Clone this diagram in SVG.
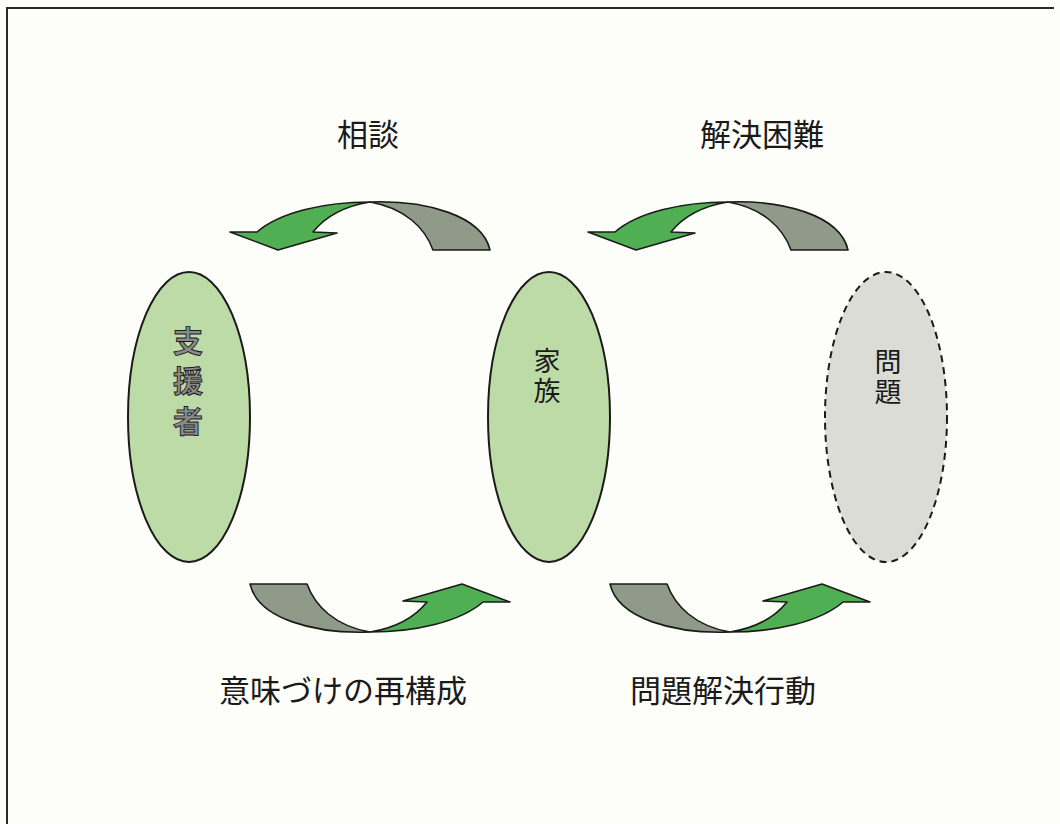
<svg xmlns="http://www.w3.org/2000/svg" width="1060" height="824" viewBox="0 0 1060 824">
<style>
.lbl{font-family:"Noto Sans CJK JP","Noto Sans",sans-serif;font-size:31px;fill:#1a1a1a;text-anchor:middle}
.vt{font-family:"Noto Sans CJK JP","Noto Sans",sans-serif;font-size:27px;fill:#1a1a1a;text-anchor:middle;writing-mode:vertical-rl;letter-spacing:3px}
.emb{font-size:30px;font-weight:bold;letter-spacing:10px;fill:#8a8a8a;stroke:#1a1a1a;stroke-width:0.9}
.node{fill:#bddba6;stroke:#1a1a1a;stroke-width:2}
.prob{fill:#dcdcd6;stroke:#1a1a1a;stroke-width:2;stroke-dasharray:7 5}
.green{fill:#50af52;stroke:#1a1a1a;stroke-width:1.6;stroke-linejoin:round}
.gray{fill:#8f9a88;stroke:#1a1a1a;stroke-width:1.6;stroke-linejoin:round}
</style>
<defs>
<g id="arr">
<path class="gray" d="M370,202 C425,200 482,215 490,250 L433,250 C425,228 405,208 370,202 Z"/>
<path class="green" d="M370,202 C325,202 280,212 257,232 L230,232 L278,250 L337,233 L313,232 C325,217 345,206 370,202 Z"/>
</g>
</defs>
<rect x="0" y="0" width="1060" height="824" fill="#fdfdf9"/>
<path d="M7,830 L7,8 L1054,8" fill="none" stroke="#2a2a2a" stroke-width="2"/>
<g id="connectors">
<use href="#arr"/>
<use href="#arr" transform="translate(358,0)"/>
<use href="#arr" transform="rotate(180 370 417)"/>
<use href="#arr" transform="translate(360,0) rotate(180 370 417)"/>
</g>
<g id="node-shienja">
<ellipse class="node" cx="189" cy="417" rx="61" ry="145"/>
<text class="vt emb" x="188" y="386">支援者</text>
</g>
<g id="node-kazoku">
<ellipse class="node" cx="549" cy="417" rx="61" ry="145"/>
<text class="vt" x="547" y="377">家族</text>
</g>
<g id="node-mondai">
<ellipse class="prob" cx="886" cy="417" rx="61" ry="145"/>
<text class="vt" x="888" y="378">問題</text>
</g>
<g id="labels">
<text class="lbl" x="368" y="146">相談</text>
<text class="lbl" x="762" y="146">解決困難</text>
<text class="lbl" x="343" y="702">意味づけの再構成</text>
<text class="lbl" x="723" y="702">問題解決行動</text>
</g>
</svg>
